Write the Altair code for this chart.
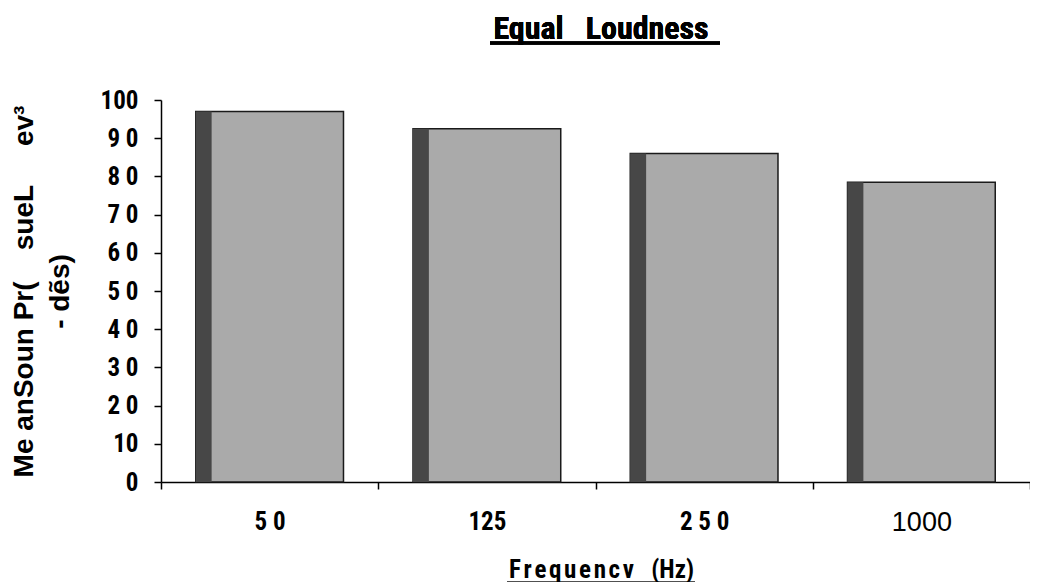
import altair as alt
import pandas as pd

# ---- data ----
freq = ["50", "125", "250", "1000"]
freq_labels = ["5 0", "125", "2 5 0", "1000"]
spl = [97, 92.5, 86, 78.5]
y_tick_values = [0, 10, 20, 30, 40, 50, 60, 70, 80, 90, 100]
y_tick_labels = ["0", "10", "2 0", "3 0", "4 0", "5 0", "6 0", "7 0", "8 0", "9 0", "100"]
NB = "\u00a0"
HS = "\u200a"
title_text = "Equal" + NB * 3 + "Loudness"
x_title = HS.join("Frequencv") + NB * 3 + "(Hz)"
y_title = ["Me anSoun Pr(" + NB * 4 + "sueL" + NB * 5 + "ev³", "-" + NB + "dẽs)"]

df = pd.DataFrame({"freq": freq, "spl": spl})

W, H = 869, 382
NARROW = "Liberation Sans Narrow, Roboto Condensed, Liberation Sans, Arial"
ARIAL = "Liberation Sans, Arial"

x_lab_expr = "[" + ",".join(f"'{l}'" for l in freq_labels) + "][indexof([" + \
    ",".join(f"'{f}'" for f in freq) + "], datum.value)]"
y_lab_expr = "[" + ",".join(f"'{l}'" for l in y_tick_labels) + "][round(datum.value/10)]"

is_1000 = "datum.value == '1000'"


def x_enc():
    return alt.X(
        "freq:N", sort=freq,
        scale=alt.Scale(paddingInner=0, paddingOuter=0),
        axis=alt.Axis(
            title=x_title, labelAngle=0, tickBand="extent", labelExpr=x_lab_expr,
            labelFont=alt.condition(is_1000, alt.value(ARIAL), alt.value(NARROW)),
            labelFontSize=alt.condition(is_1000, alt.value(27), alt.value(25)),
            labelFontWeight=alt.condition(is_1000, alt.value("normal"), alt.value("bold")),
            labelColor="black", labelPadding=20, tickColor="black", tickSize=7,
            tickWidth=1.5, domainColor="black", domainWidth=1.5,
            titleFont=NARROW, titleFontSize=25, titleFontWeight="bold",
            titleColor="black", titlePadding=22, titleX=440,
        ),
    )


def y_enc():
    return alt.Y(
        "spl:Q", scale=alt.Scale(domain=[0, 100], nice=False),
        axis=alt.Axis(
            values=y_tick_values, labelExpr=y_lab_expr, title=y_title,
            labelFont=NARROW, labelFontSize=25, labelFontWeight="bold",
            labelColor="black", labelPadding=16, labelOverlap=False,
            tickColor="black", tickSize=7, tickWidth=1.5,
            domainColor="black", domainWidth=1.5, grid=False,
            titleFont=ARIAL, titleFontSize=28, titleFontWeight="bold",
            titleColor="black", titlePadding=26, titleLineHeight=36,
        ),
    )


base = alt.Chart(df)
bars = base.mark_bar(
    width=alt.RelativeBandSize(0.68), color="#aaaaaa",
    stroke="#1a1a1a", strokeWidth=1.5,
).encode(x=x_enc(), y=y_enc())

strip = base.mark_bar(width=16, xOffset=-66, color="#474747").encode(
    x=x_enc(), y=y_enc()
)

# title as text centred above the bars, and underlines
title_mark = base.mark_text(
    text=title_text, font=NARROW, fontSize=32, fontWeight="bold",
    color="black", align="center", baseline="alphabetic",
).encode(x=alt.value(440), y=alt.value(-61))
ul_title = base.mark_rule(color="black", strokeWidth=3).encode(
    x=alt.value(329), x2=alt.value(559), y=alt.value(-57)
)
ul_x = base.mark_rule(color="black", strokeWidth=2.5).encode(
    x=alt.value(346), x2=alt.value(534), y=alt.value(H + 101)
)

chart = (
    alt.layer(bars, strip, title_mark, ul_title, ul_x)
    .properties(
        width=W, height=H,
        autosize=alt.AutoSizeParams(type="none"),
        padding={"left": 153, "top": 92, "right": 0, "bottom": 100},
        background="white",
    )
    .configure_view(stroke=None)
)

chart.save("out.html", embed_options={"renderer": "svg", "actions": False})
